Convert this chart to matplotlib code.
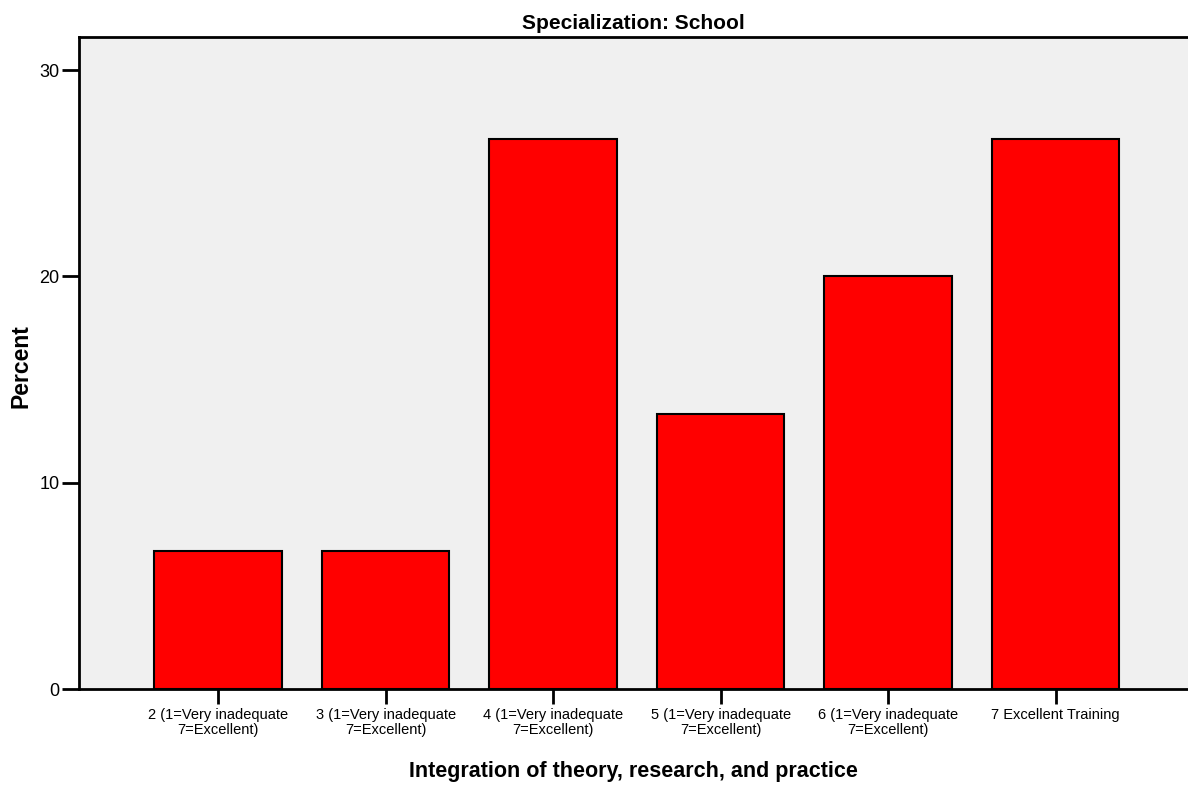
import matplotlib
matplotlib.use("Agg")
import matplotlib.pyplot as plt

categories = ["2 (1=Very inadequate\n7=Excellent)", "3 (1=Very inadequate\n7=Excellent)",
              "4 (1=Very inadequate\n7=Excellent)", "5 (1=Very inadequate\n7=Excellent)",
              "6 (1=Very inadequate\n7=Excellent)", "7 Excellent Training"]
percent = [6.67, 6.67, 26.67, 13.33, 20.0, 26.67]
yticks = [0, 10, 20, 30]

plt.rcParams['font.family'] = ['Liberation Sans', 'DejaVu Sans']

fig = plt.figure(figsize=(11.88, 7.92), dpi=100)
ax = fig.add_axes([79/1188, 1 - 689/792, 1 - 79/1188, (689 - 37)/792])
ax.set_facecolor('#F0F0F0')
x = list(range(len(categories)))
ax.bar(x, percent, width=0.76, color='#FF0000', edgecolor='black', linewidth=1.5, zorder=3)
ax.set_xlim(-0.83, len(categories) - 1 + 0.79)
ax.set_ylim(0, 31.6)
ax.set_yticks(yticks)
ax.set_yticklabels([str(v) for v in yticks], fontsize=13)
ax.set_xticks(x)
ax.set_xticklabels(categories, fontsize=10.5, linespacing=1.05)
ax.tick_params(axis='y', direction='out', length=12, width=2, pad=2)
ax.tick_params(axis='x', direction='out', length=11, width=2, pad=3)
for s in ['left', 'bottom', 'top']:
    ax.spines[s].set_linewidth(2)
ax.spines['right'].set_visible(False)
fig.text(21/1188, 1 - 366/792, 'Percent', rotation=90, ha='center', va='center',
         fontsize=16.5, fontweight='bold')
ax.set_xlabel('Integration of theory, research, and practice', fontsize=15.5, fontweight='bold', labelpad=17)
ax.set_title('Specialization: School', fontsize=15, fontweight='bold', pad=6)
fig.savefig('out.png', dpi=100)
